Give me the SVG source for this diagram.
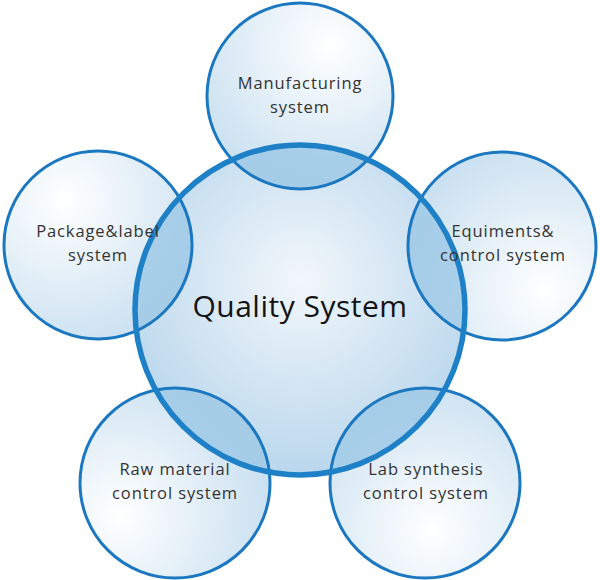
<svg xmlns="http://www.w3.org/2000/svg" width="600" height="580" viewBox="0 0 600 580">
<defs>
<radialGradient id="gTop" cx="330" cy="45" r="170" gradientUnits="userSpaceOnUse"><stop offset="0" stop-color="#ffffff"/><stop offset="1" stop-color="#c4ddef"/></radialGradient>
<radialGradient id="gLeft" cx="65" cy="200" r="170" gradientUnits="userSpaceOnUse"><stop offset="0" stop-color="#ffffff"/><stop offset="1" stop-color="#c4ddef"/></radialGradient>
<radialGradient id="gRight" cx="545" cy="290" r="170" gradientUnits="userSpaceOnUse"><stop offset="0" stop-color="#ffffff"/><stop offset="1" stop-color="#c4ddef"/></radialGradient>
<radialGradient id="gBL" cx="120" cy="515" r="170" gradientUnits="userSpaceOnUse"><stop offset="0" stop-color="#ffffff"/><stop offset="1" stop-color="#c4ddef"/></radialGradient>
<radialGradient id="gBR" cx="432" cy="530" r="170" gradientUnits="userSpaceOnUse"><stop offset="0" stop-color="#ffffff"/><stop offset="1" stop-color="#c4ddef"/></radialGradient>
<radialGradient id="gCenter" cx="300" cy="280" r="200" gradientUnits="userSpaceOnUse"><stop offset="0" stop-color="#f2f7fb"/><stop offset="1" stop-color="#b8d6ec"/></radialGradient>
<clipPath id="clipC"><circle cx="300" cy="310" r="165"/></clipPath>
<style>
.lens{fill:#9fc9e6;opacity:0.85}
.ring{fill:none;stroke:#1b78c0;stroke-width:3}
.t{font-family:"Open Sans","Noto Sans",sans-serif;font-size:16.5px;fill:#333333;text-anchor:middle;letter-spacing:0.9px}
.q{font-family:"Open Sans","Noto Sans",sans-serif;font-size:30px;fill:#141414;text-anchor:middle;letter-spacing:0.5px}
</style>
</defs>
<g id="quality">
<circle cx="300" cy="310" r="165" fill="url(#gCenter)"/>
</g>
<g id="manufacturing">
<circle cx="300" cy="96" r="93" fill="url(#gTop)"/>
</g>
<g id="package">
<circle cx="98" cy="245" r="94" fill="url(#gLeft)"/>
</g>
<g id="equipments">
<circle cx="502" cy="246" r="94" fill="url(#gRight)"/>
</g>
<g id="rawmaterial">
<circle cx="175" cy="483" r="95" fill="url(#gBL)"/>
</g>
<g id="labsynthesis">
<circle cx="425" cy="483" r="95" fill="url(#gBR)"/>
</g>
<g id="overlaps" clip-path="url(#clipC)">
<circle class="lens" cx="300" cy="96" r="93"/>
<circle class="lens" cx="98" cy="245" r="94"/>
<circle class="lens" cx="502" cy="246" r="94"/>
<circle class="lens" cx="175" cy="483" r="95"/>
<circle class="lens" cx="425" cy="483" r="95"/>
</g>
<g id="outlines">
<circle class="ring" cx="300" cy="96" r="93"/>
<circle class="ring" cx="98" cy="245" r="94"/>
<circle class="ring" cx="502" cy="246" r="94"/>
<circle class="ring" cx="175" cy="483" r="95"/>
<circle class="ring" cx="425" cy="483" r="95"/>
<circle cx="300" cy="310" r="165" fill="none" stroke="#1e80c6" stroke-width="5.5"/>
</g>
<g id="labels">
<text class="t" x="300" y="89">Manufacturing</text>
<text class="t" x="300" y="113">system</text>
<text class="t" x="98" y="237">Package&amp;label</text>
<text class="t" x="98" y="261">system</text>
<text class="t" x="503" y="237">Equiments&amp;</text>
<text class="t" x="503" y="261">control system</text>
<text class="t" x="175" y="475">Raw material</text>
<text class="t" x="175" y="499">control system</text>
<text class="t" x="426" y="475">Lab synthesis</text>
<text class="t" x="426" y="499">control system</text>
<text class="q" x="300" y="317">Quality System</text>
</g>
</svg>
